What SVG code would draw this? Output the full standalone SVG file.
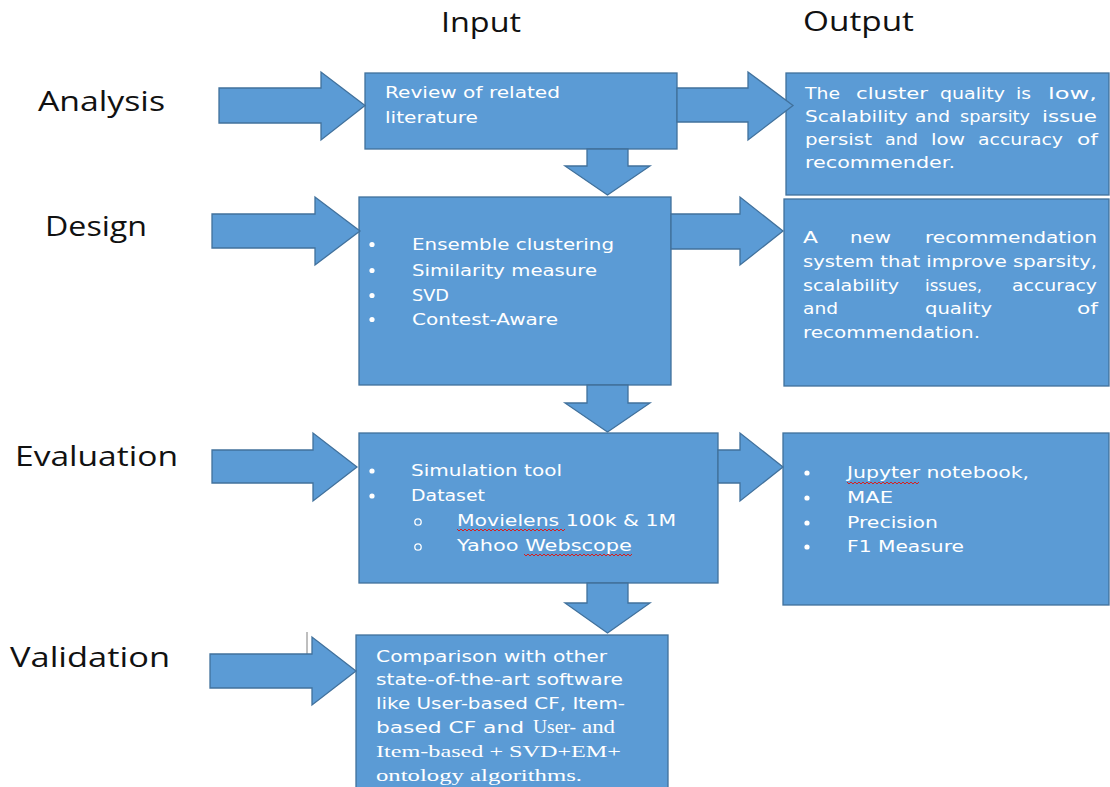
<svg xmlns="http://www.w3.org/2000/svg" width="1110" height="787" viewBox="0 0 1110 787">
<style>
.box{fill:#5B9BD5;stroke:#41719C;stroke-width:1.3}
.arr{fill:#5B9BD5;stroke:#41719C;stroke-width:1.3;stroke-linejoin:miter}
.lbl{font-family:"Open Sans","Liberation Sans",sans-serif;font-size:27px;fill:#111}
.t{font-family:"DejaVu Sans","Liberation Sans",sans-serif;font-size:15.5px;fill:#fff}
.s{font-family:"Liberation Serif","DejaVu Serif",serif;font-size:17px;fill:#fff}
.dot{fill:#fff}
.wavy{fill:none;stroke:#d42020;stroke-width:1}
</style>
<rect width="1110" height="787" fill="#fff"/>

<g id="labels">
<text class="lbl" x="441" y="32" textLength="80" lengthAdjust="spacingAndGlyphs">Input</text>
<text class="lbl" x="803" y="31" textLength="111" lengthAdjust="spacingAndGlyphs">Output</text>
<text class="lbl" x="38" y="111" textLength="127" lengthAdjust="spacingAndGlyphs">Analysis</text>
<text class="lbl" x="45" y="236" textLength="102" lengthAdjust="spacingAndGlyphs">Design</text>
<text class="lbl" x="15" y="466" textLength="163" lengthAdjust="spacingAndGlyphs">Evaluation</text>
<text class="lbl" x="10" y="667" textLength="160" lengthAdjust="spacingAndGlyphs">Validation</text>
</g>

<g id="node-analysis-input">
<rect class="box" x="365" y="73" width="312" height="76"/>
<text class="t" x="385" y="98" textLength="175" lengthAdjust="spacingAndGlyphs">Review of related</text>
<text class="t" x="385" y="123" textLength="93" lengthAdjust="spacingAndGlyphs">literature</text>
</g>

<g id="node-analysis-output">
<rect class="box" x="786" y="73" width="323" height="122"/>
<text class="t" y="99"><tspan x="805" textLength="35" lengthAdjust="spacingAndGlyphs">The</tspan><tspan x="856" textLength="72" lengthAdjust="spacingAndGlyphs">cluster</tspan><tspan x="940" textLength="65" lengthAdjust="spacingAndGlyphs">quality</tspan><tspan x="1016" textLength="15" lengthAdjust="spacingAndGlyphs">is</tspan><tspan x="1048" textLength="49" lengthAdjust="spacingAndGlyphs">low,</tspan></text>
<text class="t" y="122"><tspan x="805" textLength="103" lengthAdjust="spacingAndGlyphs">Scalability</tspan><tspan x="915" textLength="35" lengthAdjust="spacingAndGlyphs">and</tspan><tspan x="960" textLength="70" lengthAdjust="spacingAndGlyphs">sparsity</tspan><tspan x="1042" textLength="55" lengthAdjust="spacingAndGlyphs">issue</tspan></text>
<text class="t" y="145"><tspan x="805" textLength="67" lengthAdjust="spacingAndGlyphs">persist</tspan><tspan x="885" textLength="33" lengthAdjust="spacingAndGlyphs">and</tspan><tspan x="931" textLength="34" lengthAdjust="spacingAndGlyphs">low</tspan><tspan x="978" textLength="85" lengthAdjust="spacingAndGlyphs">accuracy</tspan><tspan x="1077" textLength="21" lengthAdjust="spacingAndGlyphs">of</tspan></text>
<text class="t" x="805" y="168" textLength="150" lengthAdjust="spacingAndGlyphs">recommender.</text>
</g>

<g id="node-design-input">
<rect class="box" x="359" y="197" width="312" height="188"/>
<circle class="dot" cx="372" cy="244.5" r="2.6"/>
<circle class="dot" cx="372" cy="270.5" r="2.6"/>
<circle class="dot" cx="372" cy="295.5" r="2.6"/>
<circle class="dot" cx="372" cy="319.5" r="2.6"/>
<text class="t" x="412" y="250" textLength="202" lengthAdjust="spacingAndGlyphs">Ensemble clustering</text>
<text class="t" x="412" y="276" textLength="185" lengthAdjust="spacingAndGlyphs">Similarity measure</text>
<text class="t" x="412" y="301" textLength="37" lengthAdjust="spacingAndGlyphs">SVD</text>
<text class="t" x="412" y="325" textLength="146" lengthAdjust="spacingAndGlyphs">Contest-Aware</text>
</g>

<g id="node-design-output">
<rect class="box" x="784" y="199" width="325" height="187"/>
<text class="t" y="243"><tspan x="803" textLength="15" lengthAdjust="spacingAndGlyphs">A</tspan><tspan x="850" textLength="41" lengthAdjust="spacingAndGlyphs">new</tspan><tspan x="925" textLength="172" lengthAdjust="spacingAndGlyphs">recommendation</tspan></text>
<text class="t" x="803" y="267" textLength="294" lengthAdjust="spacingAndGlyphs">system that improve sparsity,</text>
<text class="t" y="291"><tspan x="803" textLength="96" lengthAdjust="spacingAndGlyphs">scalability</tspan><tspan x="925" textLength="57" lengthAdjust="spacingAndGlyphs">issues,</tspan><tspan x="1012" textLength="85" lengthAdjust="spacingAndGlyphs">accuracy</tspan></text>
<text class="t" y="314"><tspan x="803" textLength="35" lengthAdjust="spacingAndGlyphs">and</tspan><tspan x="925" textLength="67" lengthAdjust="spacingAndGlyphs">quality</tspan><tspan x="1077" textLength="21" lengthAdjust="spacingAndGlyphs">of</tspan></text>
<text class="t" x="803" y="338" textLength="177" lengthAdjust="spacingAndGlyphs">recommendation.</text>
</g>

<g id="node-evaluation-input">
<rect class="box" x="359" y="433" width="359" height="150"/>
<circle class="dot" cx="372" cy="471" r="2.6"/>
<circle class="dot" cx="372" cy="496" r="2.6"/>
<text class="t" x="411" y="476" textLength="151" lengthAdjust="spacingAndGlyphs">Simulation  tool</text>
<text class="t" x="411" y="501" textLength="74" lengthAdjust="spacingAndGlyphs">Dataset</text>
<circle cx="418" cy="522" r="3.2" fill="none" stroke="#fff" stroke-width="1.3"/>
<circle cx="418" cy="547" r="3.2" fill="none" stroke="#fff" stroke-width="1.3"/>
<text class="t" x="457" y="526" textLength="219" lengthAdjust="spacingAndGlyphs">Movielens 100k &amp; 1M</text>
<text class="t" x="457" y="551" textLength="175" lengthAdjust="spacingAndGlyphs">Yahoo Webscope</text>
<path class="wavy" d="M457,529l2,2l2,-2l2,2l2,-2l2,2l2,-2l2,2l2,-2l2,2l2,-2l2,2l2,-2l2,2l2,-2l2,2l2,-2l2,2l2,-2l2,2l2,-2l2,2l2,-2l2,2l2,-2l2,2l2,-2l2,2l2,-2l2,2l2,-2l2,2l2,-2l2,2l2,-2l2,2l2,-2l2,2l2,-2l2,2l2,-2l2,2l2,-2l2,2l2,-2l2,2l2,-2l2,2l2,-2l2,2l2,-2l2,2l2,-2l2,2l2,-2"/>
<path class="wavy" d="M524,554l2,2l2,-2l2,2l2,-2l2,2l2,-2l2,2l2,-2l2,2l2,-2l2,2l2,-2l2,2l2,-2l2,2l2,-2l2,2l2,-2l2,2l2,-2l2,2l2,-2l2,2l2,-2l2,2l2,-2l2,2l2,-2l2,2l2,-2l2,2l2,-2l2,2l2,-2l2,2l2,-2l2,2l2,-2l2,2l2,-2l2,2l2,-2l2,2l2,-2l2,2l2,-2l2,2l2,-2l2,2l2,-2l2,2l2,-2l2,2l2,-2"/>
</g>

<g id="node-evaluation-output">
<rect class="box" x="783" y="433" width="326" height="172"/>
<circle class="dot" cx="807" cy="473" r="2.6"/>
<circle class="dot" cx="807" cy="498" r="2.6"/>
<circle class="dot" cx="807" cy="523" r="2.6"/>
<circle class="dot" cx="807" cy="547" r="2.6"/>
<text class="t" x="847" y="478" textLength="182" lengthAdjust="spacingAndGlyphs">Jupyter notebook,</text>
<text class="t" x="847" y="503" textLength="46" lengthAdjust="spacingAndGlyphs">MAE</text>
<text class="t" x="847" y="528" textLength="91" lengthAdjust="spacingAndGlyphs">Precision</text>
<text class="t" x="847" y="552" textLength="117" lengthAdjust="spacingAndGlyphs">F1 Measure</text>
<path class="wavy" d="M847,482l2,2l2,-2l2,2l2,-2l2,2l2,-2l2,2l2,-2l2,2l2,-2l2,2l2,-2l2,2l2,-2l2,2l2,-2l2,2l2,-2l2,2l2,-2l2,2l2,-2l2,2l2,-2l2,2l2,-2l2,2l2,-2l2,2l2,-2l2,2l2,-2l2,2l2,-2l2,2l2,-2"/>
</g>

<g id="node-validation-input">
<rect class="box" x="356" y="635" width="312" height="160"/>
<text class="t" x="376" y="662" textLength="231" lengthAdjust="spacingAndGlyphs">Comparison with other</text>
<text class="t" x="376" y="685" textLength="247" lengthAdjust="spacingAndGlyphs">state-of-the-art software</text>
<text class="t" x="376" y="709" textLength="249" lengthAdjust="spacingAndGlyphs">like User-based CF, Item-</text>
<text class="t" x="376" y="733" textLength="148" lengthAdjust="spacingAndGlyphs">based CF and</text>
<text class="s" x="533" y="733" textLength="43" lengthAdjust="spacingAndGlyphs" style="font-size:18px">User-</text>
<text class="s" x="582" y="733" textLength="33" lengthAdjust="spacingAndGlyphs" style="font-size:18px">and</text>
<text class="s" x="376" y="757" textLength="245" lengthAdjust="spacingAndGlyphs">Item-based + SVD+EM+</text>
<text class="s" x="376" y="781" textLength="206" lengthAdjust="spacingAndGlyphs">ontology algorithms.</text>
</g>

<line id="cursor" x1="307" y1="632" x2="307" y2="655" stroke="#7f7f7f" stroke-width="1"/>

<g id="connectors">
<polygon class="arr" points="219,88 321,88 321,72 365,105.5 321,140 321,123 219,123"/>
<polygon class="arr" points="677,88 748,88 748,72 793,105.5 748,140 748,122 677,122"/>
<polygon class="arr" points="587,149 628,149 628,166 650,166 607.5,195 565,166 587,166"/>
<polygon class="arr" points="212,214 315,214 315,197 360,231 315,265 315,248 212,248"/>
<polygon class="arr" points="671,214 740,214 740,197 783,231 740,265 740,249 671,249"/>
<polygon class="arr" points="587,385 628,385 628,403 650,403 607.5,432 565,403 587,403"/>
<polygon class="arr" points="212,450 313,450 313,433 357,467 313,501 313,483 212,483"/>
<polygon class="arr" points="718,450 740,450 740,433 783,467 740,501 740,483 718,483"/>
<polygon class="arr" points="587,583 628,583 628,603 650,603 607.5,633 565,603 587,603"/>
<polygon class="arr" points="210,654 312,654 312,637 356,671 312,705 312,688 210,688"/>
</g>
</svg>
